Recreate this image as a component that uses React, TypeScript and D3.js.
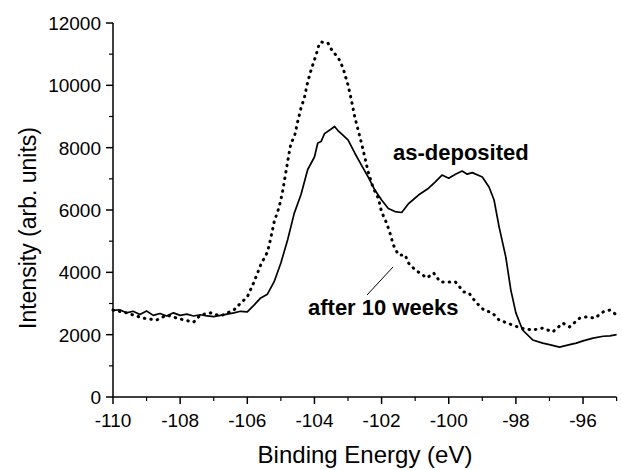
import * as d3 from "d3"

// as-deposited (solid line)
const depEnergy = [-110, -109.8, -109.6, -109.4, -109.2, -109.0, -108.8, -108.6, -108.4, -108.2, -108.0, -107.8, -107.6, -107.4, -107.2, -107.0, -106.8, -106.6, -106.4, -106.2, -106.0, -105.8, -105.6, -105.4, -105.2, -105.0, -104.8, -104.6, -104.4, -104.2, -104.0, -103.9, -103.8, -103.7, -103.5, -103.4, -103.3, -103.2, -103.0, -102.8, -102.6, -102.4, -102.2, -102.0, -101.8, -101.6, -101.4, -101.2, -100.9, -100.6, -100.4, -100.2, -100.0, -99.8, -99.6, -99.45, -99.3, -99.0, -98.8, -98.65, -98.5, -98.3, -98.15, -98.0, -97.8, -97.5, -97.2, -97.0, -96.7, -96.4, -96.2, -96.0, -95.7, -95.4, -95.2, -95.0]
const depValue = [2780, 2800, 2700, 2750, 2650, 2760, 2620, 2680, 2600, 2700, 2620, 2660, 2600, 2640, 2600, 2580, 2620, 2660, 2700, 2750, 2730, 2950, 3180, 3300, 3700, 4300, 5040, 5900, 6500, 7300, 7700, 8150, 8200, 8450, 8600, 8680, 8550, 8450, 8250, 7830, 7440, 7060, 6640, 6320, 6050, 5950, 5920, 6200, 6480, 6700, 6900, 7120, 7020, 7150, 7250, 7150, 7200, 7060, 6740, 6320, 5460, 4490, 3430, 2700, 2150, 1830, 1730, 1680, 1600, 1680, 1730, 1800, 1890, 1950, 1960, 2000]

// after 10 weeks (dotted line)
const agedEnergy = [-110, -109.6, -109.1, -108.7, -108.4, -108.1, -107.6, -107.4, -107.1, -106.8, -106.4, -106.2, -106.0, -105.8, -105.6, -105.4, -105.3, -105.2, -105.05, -104.95, -104.8, -104.7, -104.6, -104.5, -104.4, -104.3, -104.2, -104.1, -103.95, -103.85, -103.8, -103.6, -103.45, -103.3, -103.15, -103.0, -102.9, -102.8, -102.7, -102.6, -102.5, -102.4, -102.25, -102.1, -102.0, -101.85, -101.75, -101.65, -101.5, -101.3, -101.2, -101.0, -100.65, -100.45, -100.25, -100.0, -99.8, -99.55, -99.4, -99.2, -98.95, -98.7, -98.5, -98.25, -97.85, -97.5, -97.2, -96.9, -96.6, -96.4, -96.1, -95.9, -95.65, -95.4, -95.2, -95.0]
const agedValue = [2790, 2700, 2530, 2470, 2630, 2530, 2400, 2630, 2700, 2600, 2790, 3010, 3210, 3690, 4240, 4650, 5100, 5620, 6100, 6580, 7540, 8150, 8340, 8830, 9270, 9600, 10110, 10490, 10980, 11360, 11390, 11360, 11070, 10910, 10560, 10010, 9530, 8990, 8570, 8150, 7700, 7220, 6710, 6390, 5940, 5580, 5260, 4880, 4560, 4560, 4300, 4080, 3820, 3980, 3690, 3690, 3690, 3370, 3340, 3050, 2790, 2700, 2470, 2370, 2210, 2150, 2210, 2090, 2370, 2250, 2530, 2570, 2530, 2730, 2790, 2630]

const xMajor = [-110, -108, -106, -104, -102, -100, -98, -96]
const yMajor = [0, 2000, 4000, 6000, 8000, 10000, 12000]

const font = "'Liberation Sans', Arial, sans-serif"

export default function App() {
    const width = 622
    const height = 470

    const x = d3.scaleLinear([-110, -95], [113, 616.6])
    const y = d3.scaleLinear([0, 12000], [397, 23])

    const depPath = d3.line<number>()
        .x((_, i) => x(depEnergy[i]))
        .y(d => y(d))(depValue)
    const agedPath = d3.line<number>()
        .x((_, i) => x(agedEnergy[i]))
        .y(d => y(d))(agedValue)

    // minor ticks every 1 eV / 1000 counts
    const xMinor = d3.range(-110, -94, 1).filter(v => !xMajor.includes(v))
    const yMinor = d3.range(0, 13000, 1000).filter(v => !yMajor.includes(v))

    return (
        <svg width={width} height={height} style={{ position: "absolute", left: 0, top: 0, background: "#fff" }} fontFamily={font}>
            {/* axes */}
            <line x1={x(-110)} x2={x(-110)} y1={y(12000)} y2={y(0)} stroke="#000" strokeWidth={1.5} />
            <line x1={x(-110)} x2={x(-95)} y1={y(0)} y2={y(0)} stroke="#000" strokeWidth={1.5} />

            {yMajor.map(v => (
                <g key={v}>
                    <line x1={x(-110) - 7} x2={x(-110)} y1={y(v)} y2={y(v)} stroke="#000" strokeWidth={1.5} />
                    <text x={x(-110) - 12} y={y(v)} dy="0.36em" textAnchor="end" fontSize={19}>{v}</text>
                </g>
            ))}
            {yMinor.map(v => (
                <line key={v} x1={x(-110) - 4} x2={x(-110)} y1={y(v)} y2={y(v)} stroke="#000" strokeWidth={1.2} />
            ))}

            {xMajor.map(v => (
                <g key={v}>
                    <line x1={x(v)} x2={x(v)} y1={y(0)} y2={y(0) + 7} stroke="#000" strokeWidth={1.5} />
                    <text x={x(v)} y={y(0) + 30} textAnchor="middle" fontSize={19}>{v}</text>
                </g>
            ))}
            {xMinor.map(v => (
                <line key={v} x1={x(v)} x2={x(v)} y1={y(0)} y2={y(0) + 4} stroke="#000" strokeWidth={1.2} />
            ))}

            {/* axis titles */}
            <text x={365} y={463} textAnchor="middle" fontSize={24}>Binding Energy (eV)</text>
            <text transform="translate(36,228) rotate(-90)" textAnchor="middle" fontSize={23}>Intensity (arb. units)</text>

            {/* series */}
            <path d={depPath ?? ""} fill="none" stroke="#000" strokeWidth={1.7} strokeLinejoin="round" />
            <path d={agedPath ?? ""} fill="none" stroke="#000" strokeWidth={3} strokeDasharray="0.5 6" strokeLinecap="round" />

            {/* annotations */}
            <text x={393} y={160} fontSize={22} fontWeight="bold">as-deposited</text>
            <line x1={367} y1={295} x2={393} y2={267} stroke="#000" strokeWidth={1} />
            <text x={308} y={315} fontSize={22} fontWeight="bold">after 10 weeks</text>
        </svg>
    )
}
